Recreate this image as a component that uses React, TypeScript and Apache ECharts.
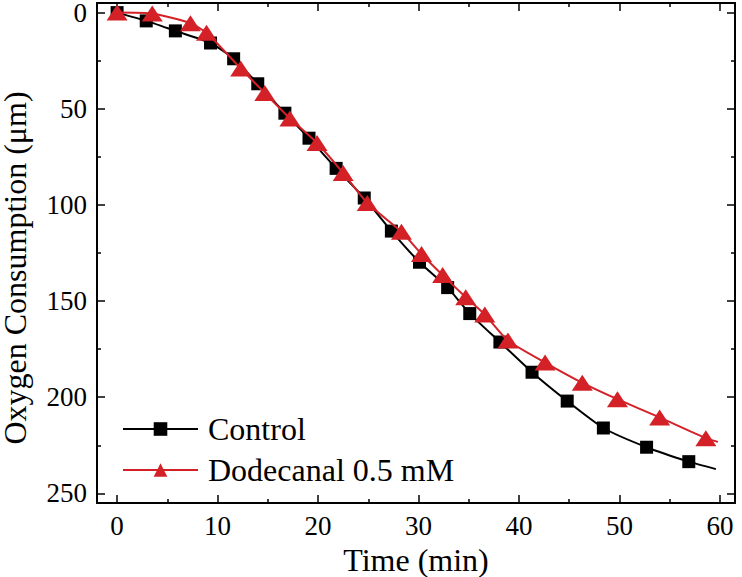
import React, { useEffect, useRef } from 'react';
import * as echarts from 'echarts';

// Control (black squares); last point is the line's tail without a marker
const controlTime = [0, 2.9, 5.8, 9.3, 11.6, 14.0, 16.7, 19.1, 21.8, 24.6, 27.3, 30.1, 32.9, 35.1, 38.1, 41.3, 44.8, 48.4, 52.7, 56.9, 59.6];
const controlO2 = [0, 4.3, 9.5, 15.8, 24, 37, 52.3, 65.3, 81, 96.4, 113.6, 129.8, 143, 156.5, 171.3, 187, 202, 216, 226, 233.5, 237.4];
// Dodecanal 0.5 mM (red triangles); last point is the line's tail without a marker
const dodecanalTime = [0, 3.5, 7.3, 8.9, 12.3, 14.7, 17.2, 19.9, 22.5, 24.9, 28.3, 30.3, 32.4, 34.7, 36.6, 38.9, 42.6, 46.3, 49.8, 54.0, 58.6, 59.8];
const dodecanalO2 = [0, 0.5, 5.5, 10.5, 29, 41.8, 55, 67.8, 83.4, 99, 114, 125.5, 136.5, 148, 157, 170.5, 182, 192.5, 201, 210.5, 221.3, 223.2];

const xTicks = [0, 10, 20, 30, 40, 50, 60];
const xMinorTicks = [5, 15, 25, 35, 45, 55];
const yTicks = [0, 50, 100, 150, 200, 250];
const yMinorTicks = [25, 75, 125, 175, 225];

const seriesNames = ['Control', 'Dodecanal 0.5 mM'];

const FONT = "'Liberation Serif', 'Times New Roman', serif";
const X_MIN = -2;
const X_MAX = 61.5;
const Y_MIN = -5;
const Y_MAX = 255;

function toData(xs: number[], ys: number[]) {
  return xs.map((x, i) => {
    const item: any = { value: [x, ys[i]] };
    if (i === xs.length - 1) item.symbol = 'none';
    return item;
  });
}

function xAxisDef(position: 'top' | 'bottom', values: number[], major: boolean, labelled: boolean) {
  return {
    type: 'value',
    min: X_MIN,
    max: X_MAX,
    position,
    axisLine: { show: major, onZero: false, lineStyle: { color: '#000', width: 2 } },
    axisTick: { show: true, inside: true, length: major ? 8 : 4, customValues: values, lineStyle: { color: '#000', width: 1.5 } },
    axisLabel: labelled
      ? { show: true, customValues: values, margin: 9, fontSize: 27, lineHeight: 27, color: '#000', fontFamily: FONT }
      : { show: false },
    splitLine: { show: false },
    ...(labelled
      ? {
          name: 'Time (min)',
          nameLocation: 'middle',
          nameGap: 33,
          nameTextStyle: { fontSize: 32, lineHeight: 32, color: '#000', fontFamily: FONT },
        }
      : {}),
  };
}

function yAxisDef(position: 'left' | 'right', values: number[], major: boolean, labelled: boolean) {
  return {
    type: 'value',
    min: Y_MIN,
    max: Y_MAX,
    inverse: true,
    position,
    axisLine: { show: major, onZero: false, lineStyle: { color: '#000', width: 2 } },
    axisTick: { show: true, inside: true, length: major ? 8 : 4, customValues: values, lineStyle: { color: '#000', width: 1.5 } },
    axisLabel: labelled
      ? { show: true, customValues: values, margin: 10, fontSize: 27, lineHeight: 24, color: '#000', fontFamily: FONT }
      : { show: false },
    splitLine: { show: false },
    ...(labelled
      ? {
          name: 'Oxygen Consumption (μm)',
          nameLocation: 'middle',
          nameRotate: 90,
          nameGap: 67,
          nameTextStyle: { fontSize: 32, lineHeight: 30, color: '#000', fontFamily: FONT, padding: [0, 30, 0, 0] },
        }
      : {}),
  };
}

export default function App() {
  const ref = useRef<HTMLDivElement>(null);
  useEffect(() => {
    if (!ref.current) return;
    const chart = echarts.init(ref.current, null, { renderer: 'svg' });
    chart.setOption({
      animation: false,
      backgroundColor: '#fff',
      grid: { left: 97, right: 7, top: 3, bottom: 74, containLabel: false, outerBoundsMode: 'none' },
      legend: {
        orient: 'vertical',
        left: 117,
        top: 408,
        itemWidth: 75,
        itemHeight: 17,
        itemGap: 9,
        data: seriesNames,
        textStyle: { fontSize: 32, lineHeight: 32, fontFamily: FONT, color: '#000', padding: [0, 0, 0, 5] },
      },
      xAxis: [
        xAxisDef('bottom', xTicks, true, true),
        xAxisDef('bottom', xMinorTicks, false, false),
        xAxisDef('top', xTicks, true, false),
        xAxisDef('top', xMinorTicks, false, false),
      ],
      yAxis: [
        yAxisDef('left', yTicks, true, true),
        yAxisDef('left', yMinorTicks, false, false),
        yAxisDef('right', yTicks, true, false),
        yAxisDef('right', yMinorTicks, false, false),
      ],
      series: [
        {
          type: 'line',
          name: seriesNames[0],
          xAxisIndex: 0,
          yAxisIndex: 0,
          data: toData(controlTime, controlO2),
          symbol: 'rect',
          symbolSize: 13,
          smooth: 0.2,
          lineStyle: { color: '#000', width: 2 },
          itemStyle: { color: '#000' },
          z: 2,
        },
        {
          type: 'line',
          name: seriesNames[1],
          xAxisIndex: 0,
          yAxisIndex: 0,
          data: toData(dodecanalTime, dodecanalO2),
          symbol: 'triangle',
          symbolSize: [21, 16],
          smooth: 0.2,
          lineStyle: { color: '#d42027', width: 2 },
          itemStyle: { color: '#d42027' },
          z: 3,
        },
      ],
    });
    return () => chart.dispose();
  }, []);
  return (
    <div
      ref={ref}
      style={{ position: 'fixed', left: 0, top: 0, width: 742, height: 577, background: '#fff' }}
    />
  );
}
